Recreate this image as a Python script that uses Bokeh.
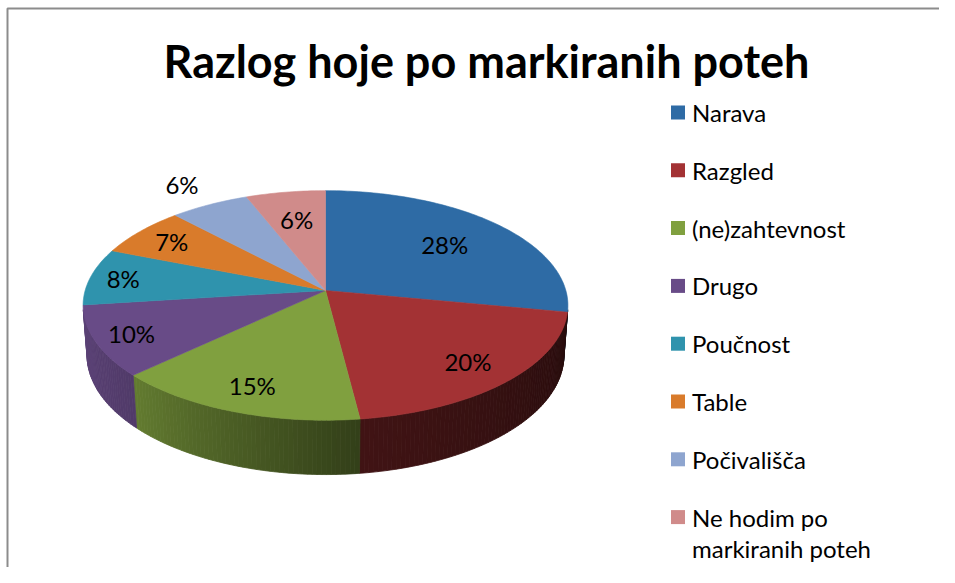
import textwrap
import numpy as np
from bokeh.plotting import figure
from bokeh.models import Range1d
from bokeh.embed import file_html
from bokeh.resources import INLINE
from bokeh.core.properties import value

# ---------------- data ----------------
title_text = "Razlog hoje po markiranih poteh"
categories = ["Narava", "Razgled", "(ne)zahtevnost", "Drugo", "Poučnost",
              "Table", "Počivališča", "Ne hodim po markiranih poteh"]
shares = [28, 20, 15, 10, 8, 7, 6, 6]

# ---------------- style ----------------
colors = ["#2E6BA5", "#A33234", "#80A03F", "#684B87", "#2F93AD",
          "#D97B2B", "#8EA5CF", "#D08B8A"]
label_radius = [0.68, 0.80, 0.81, 0.85, 0.86, 0.82, 1.27, 0.70]
FONT = "Lato"

W, H = 939, 567
p = figure(width=W, height=H, x_range=Range1d(0, W), y_range=Range1d(H, 0),
           output_backend="svg", toolbar_location=None, min_border=0,
           x_axis_location=None, y_axis_location=None)
p.grid.visible = False
p.outline_line_color = None
p.background_fill_color = "white"
p.border_fill_color = "white"

# ---------------- 3D perspective pie geometry ----------------
CX, CY = 325.0, 290.0
FOC = 1632.0
CAM_L = 6.79
TILT = np.radians(28.0)
THICK = 0.237
Hc = CAM_L * np.sin(TILT)
Dc = CAM_L * np.cos(TILT)


def proj(alpha, r=1.0, y=0.0):
    X = r * np.sin(alpha)
    Z = r * np.cos(alpha)
    depth = (-(y - Hc) * Hc + (Z + Dc) * Dc) / CAM_L
    up = (y * Dc + Z * Hc) / CAM_L
    return CX + FOC * X / depth, CY - FOC * up / depth


def hex_rgb(h):
    h = h.lstrip("#")
    return np.array([int(h[i:i + 2], 16) for i in (0, 2, 4)], float)


def shade(h, f):
    c = np.clip(hex_rgb(h) * f, 0, 255).astype(int)
    return "#%02x%02x%02x" % tuple(c)


vals = np.array(shares, float)
cum = np.concatenate([[0.0], np.cumsum(vals)]) / vals.sum() * 2 * np.pi

# walls (visible front part)
amin = np.arccos(-1.0 / Dc)
amax = 2 * np.pi - amin
wx, wy, wc = [], [], []
for i in range(len(vals)):
    lo, hi = max(cum[i], amin), min(cum[i + 1], amax)
    if hi <= lo:
        continue
    n = int(np.ceil(np.degrees(hi - lo)))
    edges = np.linspace(lo, hi, n + 1)
    for a0, a1 in zip(edges[:-1], edges[1:]):
        tx0, ty0 = proj(a0)
        tx1, ty1 = proj(a1)
        bx0, by0 = proj(a0, y=-THICK)
        bx1, by1 = proj(a1, y=-THICK)
        wx.append([tx0, tx1, bx1, bx0])
        wy.append([ty0, ty1, by1, by0])
        fct = np.interp(np.degrees((a0 + a1) / 2), [101, 173, 227, 259], [0.24, 0.40, 0.78, 0.88])
        wc.append(shade(colors[i], fct))
p.patches(wx, wy, fill_color=wc, line_color=wc, line_width=0.8)

# top faces
fx, fy = [], []
for i in range(len(vals)):
    n = max(2, int(np.ceil(np.degrees(cum[i + 1] - cum[i]))) + 1)
    a = np.linspace(cum[i], cum[i + 1], n)
    rx, ry = proj(a)
    fx.append([CX] + list(rx))
    fy.append([CY] + list(ry))
p.patches(fx, fy, fill_color=colors, line_color=colors, line_width=0.6)

# data labels
lx, ly = [], []
for i in range(len(vals)):
    mid = (cum[i] + cum[i + 1]) / 2
    x, y = proj(mid, r=label_radius[i])
    lx.append(x)
    ly.append(y)
p.text(lx, ly, text=[f"{s}%" for s in shares], text_font=value(FONT),
       text_font_size="24px", text_color="#000000", text_align="center", text_baseline="middle")

# title
p.text([486], [60], text=[title_text], text_font=value(FONT), text_font_style="bold",
       text_font_size="45px", text_color="#000000", text_align="center", text_baseline="middle")

# legend
LX, LY0, LDY = 677.5, 112.0, 57.8
ly_sq = [LY0 + i * LDY for i in range(len(categories))]
p.rect([LX] * len(categories), ly_sq, width=14, height=14, fill_color=colors, line_color=None)
tx, ty, tt = [], [], []
for i, c in enumerate(categories):
    for j, line in enumerate(textwrap.wrap(c, 16)):
        tx.append(LX + 14)
        ty.append(ly_sq[i] + j * 31)
        tt.append(line)
p.text(tx, ty, text=tt, text_font=value(FONT), text_font_size="24px",
       text_color="#000000", text_align="left", text_baseline="middle")

# chart border (top and left visible)
p.line([7, 7, W], [H, 8, 8], line_color="#8C8C8C", line_width=2)

open("out.html", "w").write(file_html(p, INLINE))
